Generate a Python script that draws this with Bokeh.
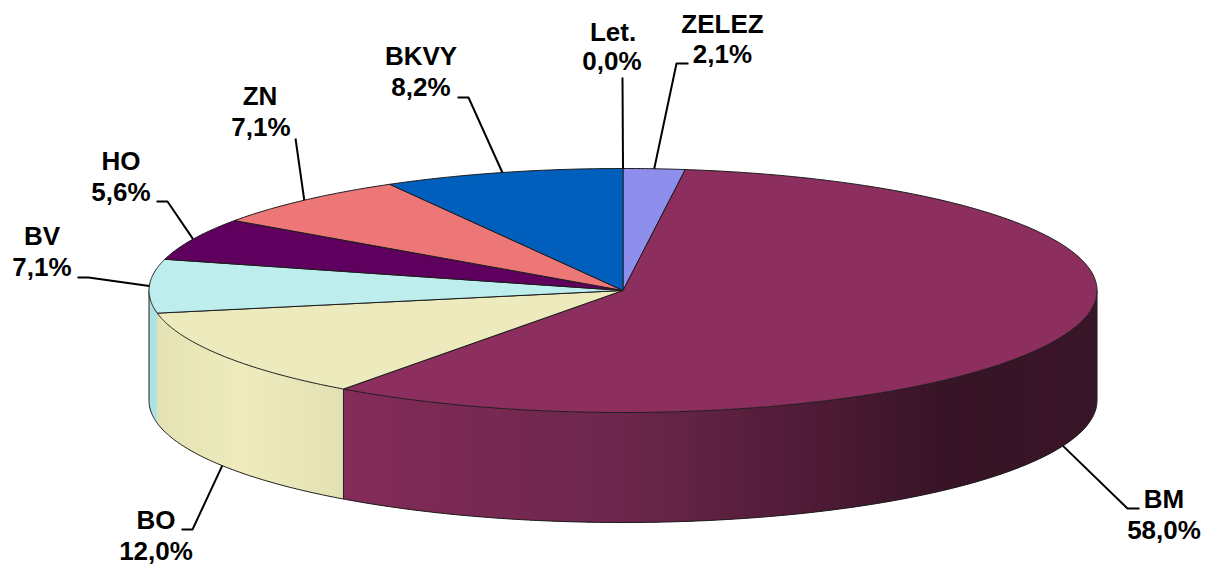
import numpy as np
from bokeh.core.properties import value
from bokeh.embed import file_html
from bokeh.models import Range1d
from bokeh.plotting import figure
from bokeh.resources import INLINE

# ---- data (clockwise from 12 o'clock) ----
categories = ["Let.", "ZELEZ", "BM", "BO", "BV", "HO", "ZN", "BKVY"]
shares = [0.0, 2.1, 58.0, 12.0, 7.1, 5.6, 7.1, 8.2]
share_labels = ["0,0%", "2,1%", "58,0%", "12,0%", "7,1%", "5,6%", "7,1%", "8,2%"]

# ---- styles ----
top_colors = ["#8e8eed", "#8e8eed", "#8c2e5e", "#edebbd", "#bdeded", "#5f005f", "#ed7777", "#005fbd"]
side_stops = {
    "BM": [(0.0, "#832b59"), (0.37, "#6c274c"), (0.62, "#4f1b36"), (0.80, "#381426"), (1.0, "#391528")],
    "BO": [(0.0, "#e4e2b4"), (0.45, "#eeecbd"), (1.0, "#e3e1b3")],
    "BV": [(0.0, "#aee0e2"), (1.0, "#b0e2e4")],
}

# ---- layout, in page pixels ----
CX, CY, RX, RY, DEPTH = 622.5, 290.0, 474.0, 122.0, 110.0
name_pos = {"Let.": (612.5, 31), "ZELEZ": (722, 23), "BM": (1163.5, 498), "BO": (155.5, 519),
            "BV": (41.5, 235), "HO": (120.5, 160), "ZN": (259.5, 95), "BKVY": (420.5, 55)}
share_pos = {"Let.": (611.5, 60), "ZELEZ": (722, 53), "BM": (1163.5, 529), "BO": (155.5, 550),
             "BV": (41.5, 266), "HO": (120.5, 191), "ZN": (260.5, 126), "BKVY": (420.5, 86)}
leader_tail = {"Let.": [(622, 77)], "ZELEZ": [(676, 63), (688, 63)], "BM": [(1127, 508), (1139, 508)],
               "BO": [(192, 529), (181, 529)], "BV": [(88, 277), (77, 277)],
               "HO": [(167, 201), (156, 201)], "ZN": [(295, 138)], "BKVY": [(468, 97), (457, 97)]}


def ex(t):
    return CX + RX * np.sin(np.radians(t))


def ey(t, drop=0.0):
    return CY - RY * np.cos(np.radians(t)) + drop


def mix(stops, f):
    for (a, ca), (b, cb) in zip(stops, stops[1:]):
        if f <= b:
            k = (f - a) / (b - a) if b > a else 0
            pa = [int(ca[i:i + 2], 16) for i in (1, 3, 5)]
            pb = [int(cb[i:i + 2], 16) for i in (1, 3, 5)]
            return "#%02x%02x%02x" % tuple(round(u + (v - u) * k) for u, v in zip(pa, pb))
    return stops[-1][1]


degrees = np.array(shares) / sum(shares) * 360.0
ends = np.cumsum(degrees)
starts = ends - degrees
mids = (starts + ends) / 2

p = figure(width=1206, height=564, x_range=Range1d(0, 1206), y_range=Range1d(564, 0),
           output_backend="svg", toolbar_location=None, min_border=0)
p.axis.visible = False
p.grid.visible = False
p.outline_line_color = None
p.background_fill_color = "white"
p.border_fill_color = "white"

EDGE = "#1c1c1c"

# side walls, front half only, shaded in thin vertical strips; each strip runs
# under the next one so that no seams show
for name, s, e in zip(categories, starts, ends):
    if name not in side_stops or e <= 90 or s >= 270:
        continue
    a, b = max(s, 90.0), min(e, 270.0)
    x_a, x_b = ex(a), ex(b)
    lo, hi = min(x_a, x_b), max(x_a, x_b)
    n = max(4, int((hi - lo) / 4))
    xs = np.linspace(x_a, x_b, n + 1)
    ts = 180 - np.degrees(np.arcsin(np.clip((xs - CX) / RX, -1, 1)))
    ts[0], ts[-1] = a, b
    fx, fy, fc = [], [], []
    for i in range(n):
        sub = np.linspace(ts[i], ts[min(i + 2, n)], 6)
        xx = ex(sub)
        fx.append(np.concatenate([xx, xx[::-1]]))
        fy.append(np.concatenate([ey(sub), ey(sub[::-1], DEPTH)]))
        fc.append(mix(side_stops[name], ((xs[i] + xs[i + 1]) / 2 - lo) / (hi - lo)))
    p.patches(fx, fy, fill_color=fc, line_color=None)

# wall outline: bottom rim, silhouette edges and the one visible slice seam
t_rim = np.linspace(90, 270, 361)
p.line(ex(t_rim), ey(t_rim, DEPTH), line_color=EDGE, line_width=1)
for t in (90.0, 270.0, ends[categories.index("BM")]):
    p.line([ex(t), ex(t)], [ey(t), ey(t, DEPTH)], line_color=EDGE, line_width=1)

# top faces
for name, s, e, c in zip(categories, starts, ends, top_colors):
    if e - s <= 0:
        continue
    t = np.linspace(s, e, max(3, int(e - s) * 2 + 1))
    p.patch(np.concatenate([[CX], ex(t)]), np.concatenate([[CY], ey(t)]),
            fill_color=c, line_color=EDGE, line_width=1, line_join="round")

# leaders start on the rim at each slice's middle angle
for name, m in zip(categories, mids):
    drop = DEPTH if 90 < m < 270 and name in ("BM", "BO") else 0.0
    pts = [(ex(m), ey(m, drop))] + leader_tail[name]
    p.line([q[0] for q in pts], [q[1] for q in pts], line_color="black", line_width=2)

# labels
FONT = dict(text_font=value("Liberation Sans"), text_font_style="bold", text_font_size="26px",
            text_color="black", text_align="center", text_baseline="middle")
p.text([name_pos[c][0] for c in categories], [name_pos[c][1] for c in categories], text=categories, **FONT)
p.text([share_pos[c][0] for c in categories], [share_pos[c][1] for c in categories], text=share_labels, **FONT)

open("out.html", "w").write(file_html(p, INLINE))
